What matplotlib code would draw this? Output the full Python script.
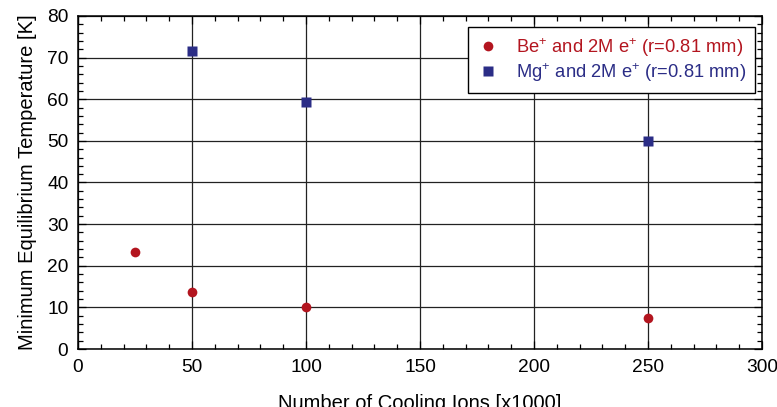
import matplotlib
matplotlib.use("Agg")
import matplotlib.pyplot as plt
from matplotlib.ticker import MultipleLocator

plt.rcParams['font.family'] = ['Liberation Sans', 'DejaVu Sans']
plt.rcParams['mathtext.fontset'] = 'custom'
plt.rcParams['mathtext.rm'] = 'Liberation Sans'
plt.rcParams['mathtext.it'] = 'Liberation Sans'

# cooling ions (x1000) and minimum equilibrium temperature (K)
be_ions = [25, 50, 100, 250]
be_temp = [23.2, 13.8, 10.0, 7.5]
mg_ions = [50, 100, 250]
mg_temp = [71.5, 59.3, 50.0]

red = '#b3151f'
blue = '#2b2d86'

fig = plt.figure(figsize=(7.77, 4.07), dpi=100)
ax = fig.add_axes([0.1004, 0.1425, 0.8803, 0.8182])

ax.plot(be_ions, be_temp, 'o', color=red, ms=7, mec='none',
        label=r'Be$^{+}$ and 2M e$^{+}$ (r=0.81 mm)')
ax.plot(mg_ions, mg_temp, 's', color=blue, ms=7, mec='none',
        label=r'Mg$^{+}$ and 2M e$^{+}$ (r=0.81 mm)')

ax.set_xlim(0, 300)
ax.set_ylim(0, 80)
ax.xaxis.set_major_locator(MultipleLocator(50))
ax.xaxis.set_minor_locator(MultipleLocator(10))
ax.yaxis.set_major_locator(MultipleLocator(10))
ax.yaxis.set_minor_locator(MultipleLocator(2))
ax.tick_params(which='both', direction='in', top=True, right=True,
               labelsize=13.8, width=0.9)
ax.tick_params(which='major', length=6)
ax.tick_params(which='minor', length=3.5)
ax.tick_params(axis='x', pad=7)
ax.tick_params(axis='y', pad=7)
ax.grid(True, which='major', color='#222222', lw=0.9)
ax.set_axisbelow(True)
for s in ax.spines.values():
    s.set_linewidth(1.1)

ax.set_xlabel('Number of Cooling Ions [x1000]', fontsize=14.5, labelpad=13)
ax.set_ylabel('Minimum Equilibrium Temperature [K]', fontsize=14.5, labelpad=7)

leg = ax.legend(loc='upper right', bbox_to_anchor=(0.990, 0.967), fontsize=13.2,
                frameon=True, fancybox=False, edgecolor='black',
                handletextpad=0.9, borderpad=0.5, labelspacing=0.12,
                handlelength=1.2, borderaxespad=0)
leg.get_frame().set_linewidth(1.0)
leg.get_frame().set_alpha(1)
for txt, c in zip(leg.get_texts(), [red, blue]):
    txt.set_color(c)

fig.savefig('out.png', dpi=100)
